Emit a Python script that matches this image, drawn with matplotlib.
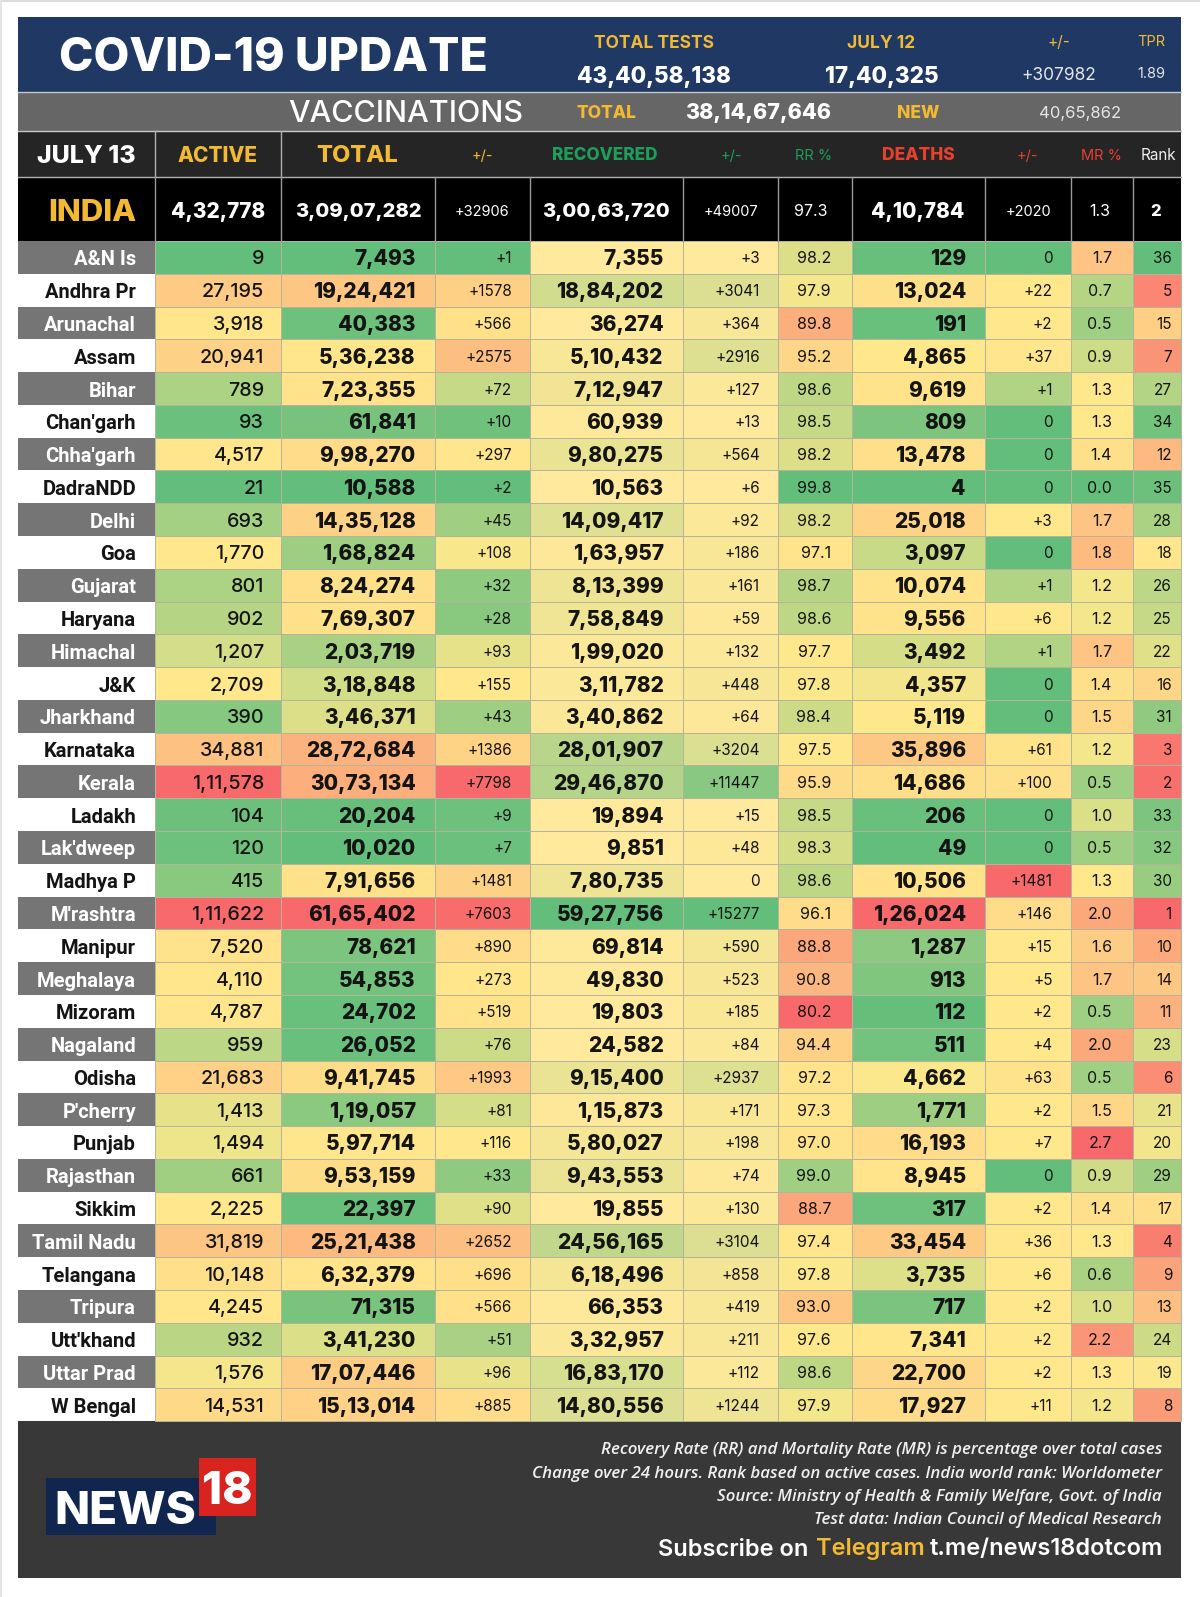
import matplotlib
matplotlib.use('Agg')
import numpy as np
import matplotlib.pyplot as plt
from matplotlib.patches import Rectangle
from matplotlib.colors import LinearSegmentedColormap, TwoSlopeNorm

states = ["A&N Is", "Andhra Pr", "Arunachal", "Assam", "Bihar", "Chan'garh", "Chha'garh", "DadraNDD", "Delhi", "Goa",
          "Gujarat", "Haryana", "Himachal", "J&K", "Jharkhand", "Karnataka", "Kerala", "Ladakh", "Lak'dweep", "Madhya P",
          "M'rashtra", "Manipur", "Meghalaya", "Mizoram", "Nagaland", "Odisha", "P'cherry", "Punjab", "Rajasthan", "Sikkim",
          "Tamil Nadu", "Telangana", "Tripura", "Utt'khand", "Uttar Prad", "W Bengal"]
active = ["9", "27,195", "3,918", "20,941", "789", "93", "4,517", "21", "693", "1,770",
          "801", "902", "1,207", "2,709", "390", "34,881", "1,11,578", "104", "120", "415",
          "1,11,622", "7,520", "4,110", "4,787", "959", "21,683", "1,413", "1,494", "661", "2,225",
          "31,819", "10,148", "4,245", "932", "1,576", "14,531"]
total = ["7,493", "19,24,421", "40,383", "5,36,238", "7,23,355", "61,841", "9,98,270", "10,588", "14,35,128", "1,68,824",
         "8,24,274", "7,69,307", "2,03,719", "3,18,848", "3,46,371", "28,72,684", "30,73,134", "20,204", "10,020", "7,91,656",
         "61,65,402", "78,621", "54,853", "24,702", "26,052", "9,41,745", "1,19,057", "5,97,714", "9,53,159", "22,397",
         "25,21,438", "6,32,379", "71,315", "3,41,230", "17,07,446", "15,13,014"]
total_chg = ["+1", "+1578", "+566", "+2575", "+72", "+10", "+297", "+2", "+45", "+108",
             "+32", "+28", "+93", "+155", "+43", "+1386", "+7798", "+9", "+7", "+1481",
             "+7603", "+890", "+273", "+519", "+76", "+1993", "+81", "+116", "+33", "+90",
             "+2652", "+696", "+566", "+51", "+96", "+885"]
recovered = ["7,355", "18,84,202", "36,274", "5,10,432", "7,12,947", "60,939", "9,80,275", "10,563", "14,09,417", "1,63,957",
             "8,13,399", "7,58,849", "1,99,020", "3,11,782", "3,40,862", "28,01,907", "29,46,870", "19,894", "9,851", "7,80,735",
             "59,27,756", "69,814", "49,830", "19,803", "24,582", "9,15,400", "1,15,873", "5,80,027", "9,43,553", "19,855",
             "24,56,165", "6,18,496", "66,353", "3,32,957", "16,83,170", "14,80,556"]
recovered_chg = ["+3", "+3041", "+364", "+2916", "+127", "+13", "+564", "+6", "+92", "+186",
                 "+161", "+59", "+132", "+448", "+64", "+3204", "+11447", "+15", "+48", "0",
                 "+15277", "+590", "+523", "+185", "+84", "+2937", "+171", "+198", "+74", "+130",
                 "+3104", "+858", "+419", "+211", "+112", "+1244"]
rr = ["98.2", "97.9", "89.8", "95.2", "98.6", "98.5", "98.2", "99.8", "98.2", "97.1",
      "98.7", "98.6", "97.7", "97.8", "98.4", "97.5", "95.9", "98.5", "98.3", "98.6",
      "96.1", "88.8", "90.8", "80.2", "94.4", "97.2", "97.3", "97.0", "99.0", "88.7",
      "97.4", "97.8", "93.0", "97.6", "98.6", "97.9"]
deaths = ["129", "13,024", "191", "4,865", "9,619", "809", "13,478", "4", "25,018", "3,097",
          "10,074", "9,556", "3,492", "4,357", "5,119", "35,896", "14,686", "206", "49", "10,506",
          "1,26,024", "1,287", "913", "112", "511", "4,662", "1,771", "16,193", "8,945", "317",
          "33,454", "3,735", "717", "7,341", "22,700", "17,927"]
deaths_chg = ["0", "+22", "+2", "+37", "+1", "0", "0", "0", "+3", "0",
              "+1", "+6", "+1", "0", "0", "+61", "+100", "0", "0", "+1481",
              "+146", "+15", "+5", "+2", "+4", "+63", "+2", "+7", "0", "+2",
              "+36", "+6", "+2", "+2", "+2", "+11"]
mr = ["1.7", "0.7", "0.5", "0.9", "1.3", "1.3", "1.4", "0.0", "1.7", "1.8",
      "1.2", "1.2", "1.7", "1.4", "1.5", "1.2", "0.5", "1.0", "0.5", "1.3",
      "2.0", "1.6", "1.7", "0.5", "2.0", "0.5", "1.5", "2.7", "0.9", "1.4",
      "1.3", "0.6", "1.0", "2.2", "1.3", "1.2"]
rank = ["36", "5", "15", "7", "27", "34", "12", "35", "28", "18",
        "26", "25", "22", "16", "31", "3", "2", "33", "32", "30",
        "1", "10", "14", "11", "23", "6", "21", "20", "29", "17",
        "4", "9", "13", "24", "19", "8"]

india_row = ["4,32,778", "3,09,07,282", "+32906", "3,00,63,720", "+49007", "97.3", "4,10,784", "+2020", "1.3", "2"]
col_heads = ["ACTIVE", "TOTAL", "+/-", "RECOVERED", "+/-", "RR %", "DEATHS", "+/-", "MR %", "Rank"]

GOLD = '#F2B933'
GREEN = '#1E9E5A'
RED = '#E8402F'
INK = '#141414'
SANS = 'Inter'

fig = plt.figure(figsize=(12, 15.97), dpi=100)
ax = fig.add_axes([0, 0, 1, 1])
ax.set_xlim(0, 1200)
ax.set_ylim(1597, 0)
ax.axis('off')

edges = [18, 154.6, 281, 434.7, 530, 682.6, 778, 852, 985, 1070.6, 1133, 1181]
top_rows = 241
row_h = 32.78


def to_num(s):
    return float(s.replace(',', '').replace('+', ''))


def box(x0, y0, x1, y1, color, **kw):
    ax.add_patch(Rectangle((x0, y0), x1 - x0, y1 - y0, facecolor=color, edgecolor='none', **kw))


def txt(x, y, s, size, color='white', weight='normal', ha='center', **kw):
    kw.setdefault('family', SANS)
    return ax.text(x, y, s, fontsize=size, color=color, fontweight=weight, ha=ha, va='center_baseline', **kw)


# colour scales, same as spreadsheet conditional formatting
good_high = LinearSegmentedColormap.from_list('good_high', ['#F8696B', '#FFE98C', '#63BE7B'])
bad_high = good_high.reversed()
yellow_green = LinearSegmentedColormap.from_list('yellow_green', ['#FFE99C', '#F9E796', '#63BE7B'])


def scaled(vals, cmap):
    v = np.array([to_num(s) for s in vals])
    norm = TwoSlopeNorm(vmin=v.min(), vcenter=np.median(v), vmax=v.max())
    return [cmap(norm(x)) for x in v]


columns = [
    (active, scaled(active, bad_high), 14.2, 'medium', 17),
    (total, scaled(total, bad_high), 15, 'heavy', 19),
    (total_chg, scaled(total_chg, bad_high), 11, 'normal', 18),
    (recovered, scaled(recovered, yellow_green), 15, 'heavy', 19),
    (recovered_chg, scaled(recovered_chg, yellow_green), 11, 'normal', 18),
    (rr, scaled(rr, good_high), 11.5, 'normal', 21),
    (deaths, scaled(deaths, bad_high), 15, 'heavy', 19),
    (deaths_chg, scaled(deaths_chg, bad_high), 11, 'normal', 18),
    (mr, scaled(mr, bad_high), 11.5, 'normal', 21),
    (rank, scaled(rank, good_high), 11, 'normal', 9),
]

# top bands
box(0, 0, 1200, 1.5, '#DDDDDD')
box(0, 0, 1.5, 1597, '#E4E4E4')
box(18, 17, 1181, 92, '#1F3864')
box(18, 92, 1181, 131, '#666666')
box(18, 131, 1181, 177, '#252525')
box(18, top_rows - 64, 1181, top_rows, '#000000')
box(18, top_rows + 36 * row_h, 1181, 1578, '#383838')
ax.plot([18, 1181], [92, 92], color='#C8C8C8', lw=1)
ax.plot([18, 1181], [131, 131], color='#C8C8C8', lw=1)
ax.plot([18, 1181], [177, 177], color='#B0B0B0', lw=1)

txt(273.5, 54, 'COVID-19 UPDATE', 33.4, weight='heavy')
txt(654, 41, 'TOTAL TESTS', 12.5, GOLD, 'bold')
txt(881, 41, 'JULY 12', 12.5, GOLD, 'bold')
txt(1059, 41, '+/-', 11, GOLD)
txt(1151, 41, 'TPR', 10.5, GOLD)
txt(654, 74, '43,40,58,138', 16.2, weight='heavy')
txt(882, 74, '17,40,325', 16.2, weight='heavy')
txt(1059, 73, '+307982', 12.5, '#E6E6E6')
txt(1151, 73, '1.89', 10.5, '#E6E6E6')

txt(406, 111, 'VACCINATIONS', 22, weight='medium')
txt(606, 112, 'TOTAL', 12.5, GOLD, 'heavy')
txt(758, 111, '38,14,67,646', 15.5, weight='heavy')
txt(918, 112, 'NEW', 12.5, GOLD, 'heavy')
txt(1080, 112, '40,65,862', 12, '#E6E6E6')

# column headers
head_x = [218, 357, 482, 605, 731, 814, 918, 1027, 1101, 1158]
head_size = [15, 17, 10.5, 12.3, 10.5, 10.5, 12.5, 10.5, 10.5, 11]
head_weight = ['heavy', 'heavy', 'normal', 'heavy', 'normal', 'normal', 'heavy', 'normal', 'normal', 'normal']
head_color = [GOLD, GOLD, GOLD, GREEN, GREEN, GREEN, RED, RED, RED, '#EEEEEE']
txt(86, 154, 'JULY 13', 18, weight='heavy')
for x, s, sz, w, c in zip(head_x, col_heads, head_size, head_weight, head_color):
    txt(x, 154, s, sz, c, w)
for x in edges[1:3]:
    ax.plot([x, x], [131, 177], color='#B0B0B0', lw=1)

# india row
india_x = [218, 358, 482, 606, 731, 811, 918, 1028, 1100, 1156]
india_size = [15, 14.5, 10.5, 14.5, 10.5, 11.5, 15, 10.5, 11.5, 12]
india_weight = ['heavy', 'heavy', 'normal', 'heavy', 'normal', 'normal', 'heavy', 'normal', 'normal', 'heavy']
txt(136, 210, 'INDIA', 22.5, GOLD, 'heavy', ha='right')
for x, s, sz, w in zip(india_x, india_row, india_size, india_weight):
    txt(x, 210, s, sz, weight=w)
for x in edges[1:-1]:
    ax.plot([x, x], [177, top_rows], color='#9A9A9A', lw=1)

# state rows
for i, name in enumerate(states):
    y0 = top_rows + i * row_h
    odd = i % 2 == 0
    box(edges[0], y0, edges[1], y0 + row_h, '#757575' if odd else 'white')
    txt(136, y0 + row_h / 2 + 0.5, name, 14.5, 'white' if odd else INK, 'semibold', ha='right', family='Roboto')
    for j, (vals, colors, size, weight, pad) in enumerate(columns):
        x0, x1 = edges[j + 1], edges[j + 2]
        ax.add_patch(Rectangle((x0, y0), x1 - x0, row_h, facecolor=colors[i], edgecolor='#B4B49C', lw=0.7))
        txt(x1 - pad, y0 + row_h / 2, vals[i], size, INK, weight, ha='right')

# footer
notes = ["Recovery Rate (RR) and Mortality Rate (MR) is percentage over total cases",
         "Change over 24 hours. Rank based on active cases. India world rank: Worldometer",
         "Source: Ministry of Health & Family Welfare, Govt. of India",
         "Test data: Indian Council of Medical Research"]
for y, s in zip([1448, 1472, 1495, 1518], notes):
    txt(1162, y, s, 12.2, '#F0F0F0', ha='right', style='italic', family='Open Sans', weight='semibold')
txt(808, 1547, 'Subscribe on', 17, weight='semibold', ha='right')
txt(816, 1547, 'Telegram', 17, GOLD, 'semibold', ha='left')
txt(1163, 1547, 't.me/news18dotcom', 17, weight='semibold', ha='right')

# logo
box(46, 1478, 216, 1535, '#10264F')
box(199, 1458, 256, 1516, '#D9231F')
txt(125, 1508, 'NEWS', 33, weight='heavy')
txt(227, 1487, '18', 33, weight='heavy')

fig.savefig('out.png', dpi=100, facecolor='white')
